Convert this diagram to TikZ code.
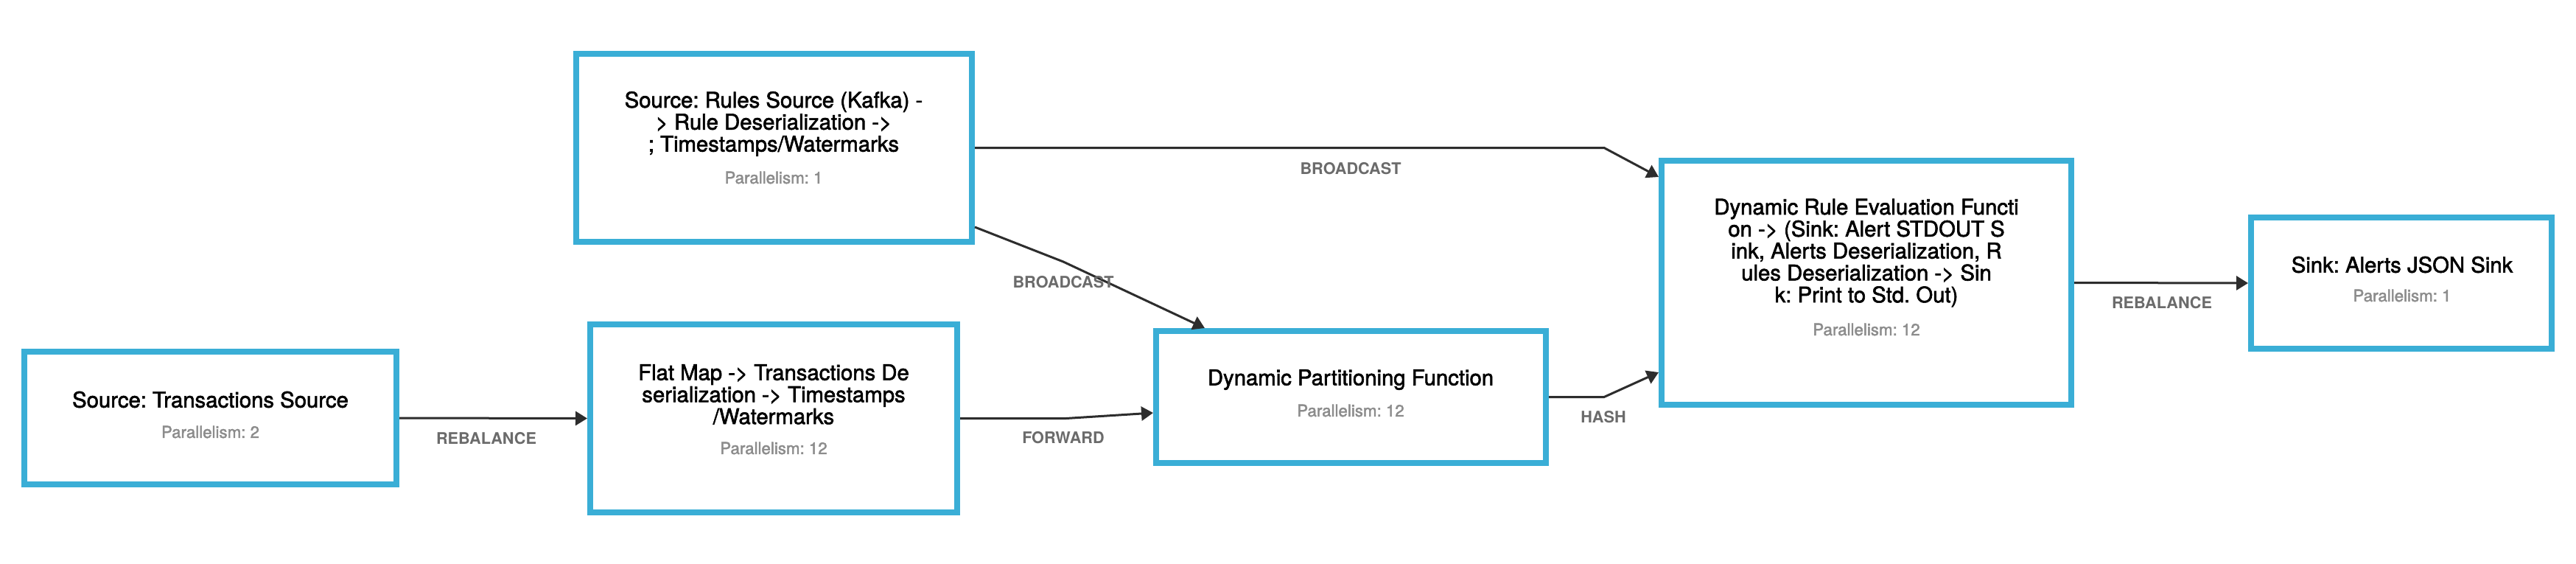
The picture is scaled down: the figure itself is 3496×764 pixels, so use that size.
\documentclass[tikz,border=0pt]{standalone}
\usepackage{fontspec}
\setmainfont{TeX Gyre Heros}
\newfontfamily\medfont{TeX Gyre Heros}[FakeBold=2]
\usetikzlibrary{arrows.meta}
\definecolor{flinkblue}{RGB}{58,174,214}
\definecolor{edgecol}{RGB}{45,45,45}
\definecolor{labelgray}{RGB}{107,107,107}
\definecolor{pargray}{RGB}{140,140,140}
\frenchspacing
\begin{document}
\begin{tikzpicture}[x=1pt,y=-1pt,
  opbox/.style={rectangle, draw=flinkblue, line width=8pt, fill=white, inner sep=0pt, outer sep=4pt},
  optitle/.style={font=\medfont\fontsize{29.3}{29.8}\selectfont, text=black, align=center, inner sep=0pt},
  partext/.style={font=\medfont\fontsize{22.3}{24}\selectfont, text=pargray, inner sep=0pt},
  elabel/.style={font=\bfseries\fontsize{21.7}{24}\selectfont, text=labelgray, inner sep=0pt},
  flow/.style={draw=edgecol, line width=3pt, -{Triangle[length=16pt,width=19pt]}, line join=miter}
]
\useasboundingbox[fill=white] (0,0) rectangle (3496,764);

% operator boxes
\node[opbox, minimum width=505pt, minimum height=180pt] (A) at (285.5,567) {};
\node[opbox, minimum width=537pt, minimum height=255pt] (B) at (1050.5,200.5) {};
\node[opbox, minimum width=498pt, minimum height=255pt] (C) at (1050,567.5) {};
\node[opbox, minimum width=529pt, minimum height=179pt] (D) at (1833.5,538.5) {};
\node[opbox, minimum width=556pt, minimum height=331pt] (E) at (2533,383.5) {};
\node[opbox, minimum width=408pt, minimum height=178pt] (F) at (3259,384) {};

% titles
\node[optitle] (At) at (285.5,542) {Source: Transactions Source};
\node[partext] (Ap) at (285.5,586) {Parallelism: 2};
\node[optitle] (Bt) at (1050,168) {Source: Rules Source (Kafka) -\\> Rule Deserialization ->\\; Timestamps/Watermarks};
\node[partext] (Bp) at (1050,241) {Parallelism: 1};
\node[optitle] (Ct) at (1050,535) {Flat Map -> Transactions De\\serialization -> Timestamps\\/Watermarks};
\node[partext] (Cp) at (1050,608) {Parallelism: 12};
\node[optitle] (Dt) at (1833,515) {Dynamic Partitioning Function};
\node[partext] (Dp) at (1833,557) {Parallelism: 12};
\node[optitle] (Et) at (2533,343) {Dynamic Rule Evaluation Functi\\on -> (Sink: Alert STDOUT S\\ink, Alerts Deserialization, R\\ules Deserialization -> Sin\\k: Print to Std. Out)};
\node[partext] (Ep) at (2533,447) {Parallelism: 12};
\node[optitle] (Ft) at (3260,359) {Sink: Alerts JSON Sink};
\node[partext] (Fp) at (3260,401) {Parallelism: 1};

% bend points
\coordinate (k1) at (2177,200.5);
\coordinate (k2) at (1443,355);
\coordinate (k3) at (1447,567.5);
\coordinate (k4) at (2177,538.5);

% connectors
\draw[flow] (A.east) -- (C.west);
\draw[flow] (B.east) -- (k1) -- ([yshift=-26pt]E.north west);
\draw[flow] ([yshift=-107.5pt]B.east) -- (k2) -- ([xshift=70pt]D.north west);
\draw[flow] (C.east) -- (k3) -- ([yshift=-21.5pt]D.west);
\draw[flow] (D.east) -- (k4) -- ([yshift=-121.5pt]E.west);
\draw[flow] (E.east) -- (F.west);

% edge labels
\node[elabel] (l1) at (660,595) {REBALANCE};
\node[elabel] (l2) at (1833,229) {BROADCAST};
\node[elabel] (l3) at (1443,383) {BROADCAST};
\node[elabel] (l4) at (1443,594) {FORWARD};
\node[elabel] (l5) at (2176,566) {HASH};
\node[elabel] (l6) at (2934,411) {REBALANCE};
\end{tikzpicture}
\end{document}
